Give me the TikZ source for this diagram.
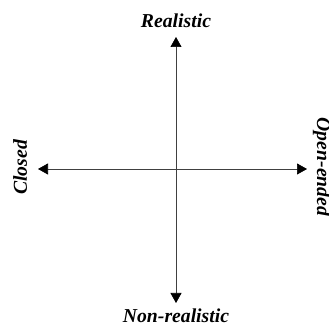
\documentclass[tikz,border=0pt]{standalone}
\usepackage{fontspec}
\setmainfont{Liberation Serif}
\usetikzlibrary{arrows.meta}

\begin{document}
\begin{tikzpicture}[x=1pt, y=1pt, line cap=round, line join=round]

% --- Global TikZ Styles ---
\tikzset{
    axisarrow/.style={
        {Triangle[length=10pt, width=11pt, color=black]}-{Triangle[length=10pt, width=11pt, color=black]},
        draw=black!75,
        line width=0.7pt
    },
    polelabel/.style={
        font=\fontsize{19.7}{24}\selectfont\bfseries\itshape,
        inner sep=0pt,
        anchor=base
    }
}

% --- Bounding box ---
\useasboundingbox (0,0) rectangle (329,326);

% --- Labels ---
\node[polelabel] (realistic) at (176,298) {Realistic};
\node[polelabel] (nonrealistic) at (176,3) {Non-realistic};
\node[polelabel, rotate=90] (closed) at (27,158.5) {Closed};
\node[polelabel, rotate=-90] (openended) at (317,159) {Open-ended};

% --- Arrow tips ---
\coordinate (top) at (176,289);
\coordinate (bottom) at (176,23);
\coordinate (left) at (38,157);
\coordinate (right) at (307,157);

% --- Axes ---
\draw[axisarrow] (top) -- (bottom);
\draw[axisarrow] (left) -- (right);

\end{tikzpicture}
\end{document}
